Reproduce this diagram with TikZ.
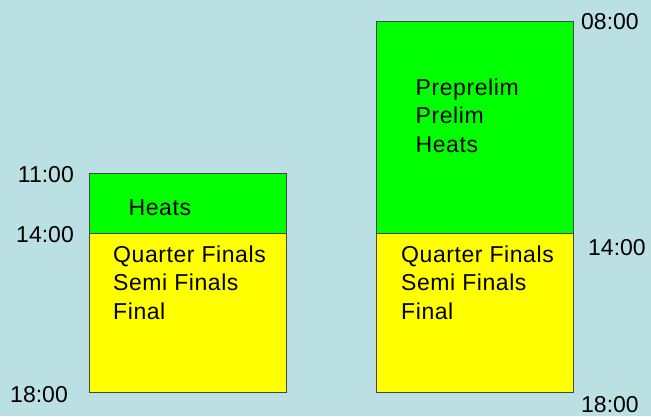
\documentclass[tikz,border=0pt]{standalone}
\usepackage{fontspec}
\setmainfont{Liberation Sans}
\usetikzlibrary{positioning}
\definecolor{bgblue}{RGB}{187,224,227}
\definecolor{boxgreen}{RGB}{0,255,0}
\definecolor{boxyellow}{RGB}{255,255,0}
\definecolor{edgegray}{RGB}{70,70,70}
\tikzset{
  session/.style={draw=edgegray, line width=0.8pt, rectangle, inner sep=0pt, outer sep=0pt, minimum width=197pt},
  clock/.style={inner sep=0pt, font=\fontsize{23}{28}\selectfont},
  events/.style={inner sep=0pt, align=left, anchor=base west, font=\fontsize{23}{28.7}\selectfont\addfontfeature{LetterSpace=2.5}},
}
\begin{document}
\begin{tikzpicture}[x=1pt,y=-1pt]
\fill[bgblue] (0,0) rectangle (651,416);
\useasboundingbox (0,0) rectangle (651,416);
% short day
\node[session, fill=boxgreen, minimum height=60pt, anchor=north west] (amA) at (89,173) {};
\node[session, fill=boxyellow, minimum height=159pt, below=0pt of amA] (pmA) {};
\node[events] (heatsA) at (128.5,215) {Heats};
\node[events] (finalsA) at (113,319.4) {Quarter Finals\\Semi Finals\\Final};
\node[clock, anchor=base east] (startA) at (74,182) {11:00};
\node[clock, anchor=base east] (splitA) at (74,242) {14:00};
\node[clock, anchor=base east] (endA) at (68,402) {18:00};
% long day
\node[session, fill=boxgreen, minimum height=212pt, anchor=north west] (amB) at (376,21) {};
\node[session, fill=boxyellow, minimum height=159pt, below=0pt of amB] (pmB) {};
\node[events] (prelimsB) at (415.5,152.4) {Preprelim\\Prelim\\Heats};
\node[events] (finalsB) at (401,319.4) {Quarter Finals\\Semi Finals\\Final};
\node[clock, anchor=base west] (startB) at (581,29.5) {08:00};
\node[clock, anchor=base west] (splitB) at (588,255) {14:00};
\node[clock, anchor=base west] (endB) at (581,412.5) {18:00};
\end{tikzpicture}
\end{document}
